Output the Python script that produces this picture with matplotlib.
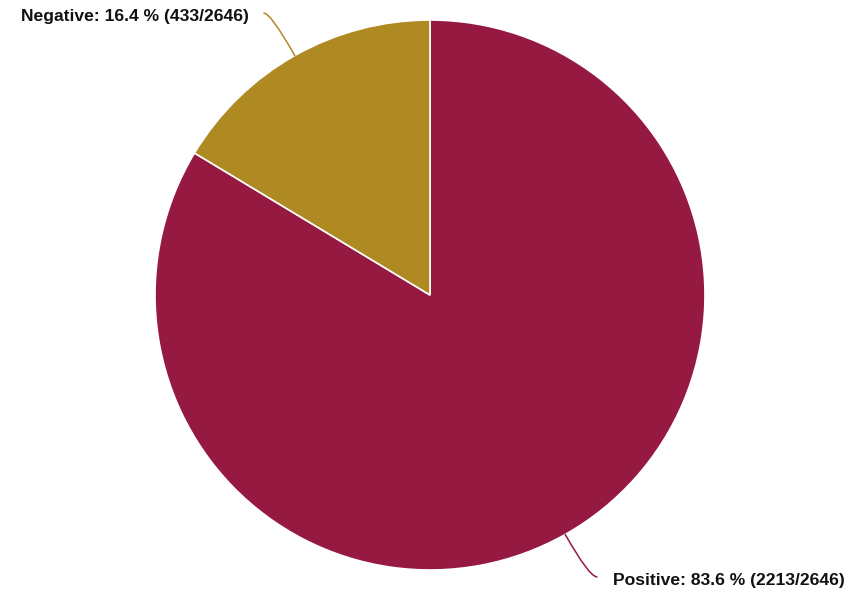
import numpy as np
import matplotlib
matplotlib.use("Agg")
import matplotlib.pyplot as plt

labels = ["Positive", "Negative"]
counts = [2213, 433]
colors = ["#951941", "#AF8A23"]

total = sum(counts)

W, H = 849, 594
fig = plt.figure(figsize=(W / 100, H / 100), dpi=100)
cx, cy, r = 430, 295, 275
ax = fig.add_axes([(cx - r) / W, (H - cy - r) / H, 2 * r / W, 2 * r / H])
ax.set_aspect("equal")

wedges, _ = ax.pie(counts, colors=colors, startangle=90, counterclock=False,
                   radius=1.0, wedgeprops=dict(edgecolor="white", linewidth=1.2))
ax.set_xlim(-1, 1)
ax.set_ylim(-1, 1)

# label placement (in pie radius units)
label_pos = {
    "Positive": dict(end=(0.607, -1.025), text=(0.665, -1.04), ha="left"),
    "Negative": dict(end=(-0.604, 1.025), text=(-0.66, 1.012), ha="right"),
}

for w, lab, n, col in zip(wedges, labels, counts, colors):
    mid = (w.theta1 + w.theta2) / 2
    ang = np.deg2rad(mid)
    edge = (np.cos(ang), np.sin(ang))
    p = label_pos[lab]
    ax.annotate("", xy=edge, xytext=p["end"],
                arrowprops=dict(arrowstyle="-", color=col, lw=1.1,
                                connectionstyle=f"angle3,angleA=0,angleB={mid:.1f}",
                                shrinkA=0, shrinkB=0),
                annotation_clip=False)
    ax.text(p["text"][0], p["text"][1],
            f"{lab}: {100 * n / total:.1f} % ({n}/{total})",
            ha=p["ha"], va="center", fontsize=12.6, fontweight="bold",
            family=["Liberation Sans", "DejaVu Sans"], color="#111111",
            clip_on=False)

fig.savefig("out.png", dpi=100)
